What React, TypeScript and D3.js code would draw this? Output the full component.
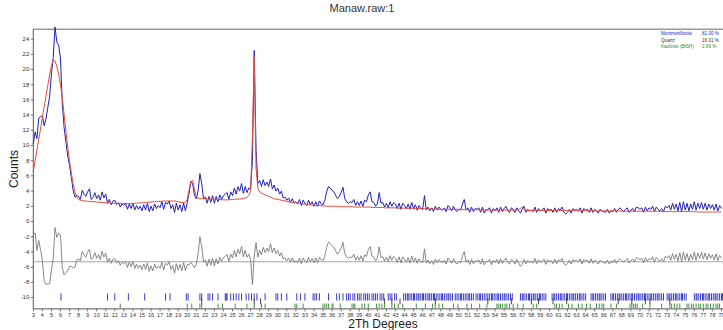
import React from 'react';
import * as d3 from 'd3';

// pattern sampled every 0.2 deg 2Theta starting at 3.0
const START = 3;
const STEP = 0.2;

const observed = [
  10.2, 11.8, 10.9, 13.6, 13.8, // 3
  13.9, 12.6, 13.5, 15.0, 16.4, // 4
  19.4, 21.6, 25.6, 23.6, 23.2, // 5
  21.5, 15.6, 12.4, 10.5, 8.6, // 6
  7.4, 5.8, 4.1, 3.2, 3.4, // 7
  3.3, 2.9, 4.1, 3.6, 3.3, // 8
  3.9, 4.3, 2.9, 3.2, 3.8, // 9
  3.0, 3.5, 2.8, 3.9, 3.1, // 10
  3.6, 2.4, 2.9, 2.2, 2.7, // 11
  2.8, 2.2, 2.5, 1.9, 2.3, // 12
  2.1, 2.4, 1.6, 2.3, 1.7, // 13
  2.4, 1.5, 2.1, 1.6, 2.0, // 14
  1.4, 2.2, 1.5, 2.4, 1.3, // 15
  2.0, 1.4, 2.3, 1.7, 2.1, // 16
  1.8, 2.6, 1.6, 2.5, 2.3, // 17
  2.7, 1.7, 2.2, 1.2, 2.4, // 18
  1.5, 2.2, 1.3, 2.4, 1.4, // 19
  2.5, 3.7, 5.2, 5.0, 3.4, // 20
  3.0, 4.0, 6.3, 5.0, 3.0, // 21
  3.2, 2.4, 3.3, 2.5, 3.4, // 22
  2.4, 3.3, 2.6, 3.5, 2.9, // 23
  3.4, 3.6, 3.8, 2.9, 3.9, // 24
  3.4, 4.4, 3.6, 4.6, 4.0, // 25
  5.0, 3.7, 4.6, 3.8, 4.4, // 26
  4.3, 8.0, 22.5, 9.5, 5.0, // 27
  5.4, 4.6, 5.5, 4.7, 5.2, // 28
  4.6, 5.6, 4.3, 4.8, 4.0, // 29
  4.4, 3.6, 4.0, 3.1, 3.2, // 30
  2.8, 3.1, 2.5, 3.0, 2.4, // 31
  2.6, 2.3, 2.9, 2.1, 2.8, // 32
  2.4, 2.1, 2.8, 2.2, 2.6, // 33
  2.0, 2.6, 2.0, 2.7, 2.3, // 34
  2.2, 2.8, 3.9, 4.6, 4.4, // 35
  4.1, 3.9, 3.4, 3.0, 3.3, // 36
  3.8, 4.5, 3.0, 2.6, 2.4, // 37
  2.6, 2.5, 2.9, 2.1, 2.6, // 38
  2.1, 2.7, 2.0, 2.8, 2.6, // 39
  3.5, 3.9, 2.6, 2.5, 2.0, // 40
  2.3, 3.8, 2.4, 2.5, 1.9, // 41
  2.4, 1.8, 2.6, 2.0, 2.5, // 42
  2.3, 1.7, 2.4, 1.6, 2.4, // 43
  2.1, 1.7, 2.3, 1.6, 2.5, // 44
  1.7, 2.2, 1.5, 2.1, 1.7, // 45
  1.6, 3.4, 1.5, 1.9, 1.4, // 46
  1.8, 1.3, 2.0, 1.5, 1.9, // 47
  1.6, 1.5, 1.8, 1.3, 2.1, // 48
  1.8, 1.4, 2.0, 1.5, 1.3, // 49
  1.6, 1.5, 2.3, 2.9, 1.5, // 50
  1.8, 1.2, 1.9, 1.3, 1.7, // 51
  1.6, 1.8, 1.2, 1.9, 1.1, // 52
  1.5, 1.6, 1.8, 1.1, 1.7, // 53
  1.4, 1.8, 1.2, 1.9, 1.3, // 54
  1.7, 2.0, 1.4, 1.2, 1.8, // 55
  1.6, 1.2, 1.8, 1.4, 1.1, // 56
  1.6, 2.0, 1.2, 1.6, 1.4, // 57
  1.5, 1.3, 1.9, 1.2, 1.7, // 58
  1.4, 1.5, 1.8, 1.1, 1.7, // 59
  1.5, 1.6, 1.2, 1.8, 1.2, // 60
  1.7, 1.5, 1.9, 1.2, 1.0, // 61
  1.2, 1.6, 1.1, 1.7, 1.5, // 62
  1.6, 1.4, 1.8, 1.1, 1.7, // 63
  1.5, 1.6, 1.2, 1.8, 1.2, // 64
  1.6, 1.4, 1.1, 1.6, 1.4, // 65
  1.3, 1.2, 1.6, 1.1, 1.4, // 66
  1.3, 1.7, 1.2, 1.6, 1.8, // 67
  1.5, 1.3, 1.6, 1.8, 1.2, // 68
  1.5, 1.7, 1.3, 1.9, 1.8, // 69
  1.6, 1.8, 1.2, 1.9, 1.4, // 70
  1.8, 1.6, 2.0, 1.3, 1.9, // 71
  1.6, 1.4, 1.7, 1.3, 2.0, // 72
  1.8, 2.1, 1.5, 2.4, 1.6, // 73
  2.3, 1.4, 2.5, 1.3, 2.6, // 74
  1.5, 2.4, 1.4, 2.3, 1.6, // 75
  2.6, 1.5, 2.4, 1.7, 2.5, // 76
  1.6, 2.4, 1.5, 2.3, 1.7, // 77
  2.2, 1.5, 2.3, 1.4, 2.1, // 78
  1.7,
];

const calculated = [
  6.6, 8.0, 9.4, 10.8, 12.2, // 3
  13.7, 15.1, 16.5, 17.9, 19.3, // 4
  20.5, 21.2, 21.1, 20.4, 19.4, // 5
  18.0, 16.3, 14.1, 11.9, 9.8, // 6
  8.0, 6.4, 4.9, 3.9, 3.2, // 7
  2.9, 2.8, 2.75, 2.7, 2.7, // 8
  2.65, 2.65, 2.6, 2.6, 2.6, // 9
  2.55, 2.55, 2.5, 2.5, 2.5, // 10
  2.45, 2.45, 2.45, 2.4, 2.4, // 11
  2.4, 2.4, 2.35, 2.35, 2.35, // 12
  2.35, 2.35, 2.35, 2.35, 2.35, // 13
  2.35, 2.4, 2.4, 2.45, 2.45, // 14
  2.45, 2.5, 2.5, 2.55, 2.55, // 15
  2.55, 2.6, 2.6, 2.6, 2.65, // 16
  2.65, 2.65, 2.7, 2.7, 2.7, // 17
  2.7, 2.7, 2.7, 2.7, 2.65, // 18
  2.6, 2.55, 2.5, 2.5, 2.55, // 19
  2.9, 4.1, 5.3, 5.4, 4.2, // 20
  3.3, 3.0, 3.0, 3.0, 3.0, // 21
  3.0, 3.0, 2.95, 2.95, 2.95, // 22
  2.95, 2.9, 2.9, 2.9, 2.85, // 23
  2.85, 2.85, 2.85, 2.85, 2.9, // 24
  2.9, 2.9, 2.95, 2.95, 2.95, // 25
  3.0, 3.05, 3.1, 3.2, 3.4, // 26
  4.0, 11.0, 21.7, 7.0, 4.4, // 27
  3.9, 3.7, 3.6, 3.5, 3.4, // 28
  3.3, 3.2, 3.1, 3.0, 2.95, // 29
  2.9, 2.85, 2.8, 2.75, 2.7, // 30
  2.65, 2.6, 2.55, 2.5, 2.5, // 31
  2.45, 2.4, 2.4, 2.35, 2.3, // 32
  2.3, 2.25, 2.2, 2.2, 2.15, // 33
  2.15, 2.1, 2.1, 2.1, 2.05, // 34
  2.05, 2.05, 2.0, 2.0, 2.0, // 35
  2.0, 2.0, 2.0, 2.0, 1.95, // 36
  1.95, 1.95, 1.95, 1.95, 1.95, // 37
  1.95, 1.95, 1.9, 1.9, 1.9, // 38
  1.9, 1.9, 1.9, 1.9, 1.9, // 39
  1.9, 1.9, 1.85, 1.85, 1.85, // 40
  1.85, 1.85, 1.85, 1.85, 1.8, // 41
  1.8, 1.8, 1.8, 1.8, 1.8, // 42
  1.8, 1.8, 1.75, 1.75, 1.75, // 43
  1.75, 1.75, 1.75, 1.75, 1.75, // 44
  1.7, 1.7, 1.7, 1.7, 1.7, // 45
  1.7, 1.7, 1.65, 1.65, 1.65, // 46
  1.65, 1.65, 1.65, 1.65, 1.6, // 47
  1.6, 1.6, 1.6, 1.6, 1.6, // 48
  1.6, 1.6, 1.6, 1.6, 1.6, // 49
  1.6, 1.6, 1.55, 1.55, 1.55, // 50
  1.55, 1.55, 1.55, 1.55, 1.55, // 51
  1.55, 1.55, 1.5, 1.5, 1.5, // 52
  1.5, 1.5, 1.5, 1.5, 1.5, // 53
  1.5, 1.5, 1.5, 1.5, 1.5, // 54
  1.5, 1.5, 1.5, 1.5, 1.5, // 55
  1.5, 1.5, 1.5, 1.55, 1.7, // 56
  1.9, 1.7, 1.5, 1.45, 1.45, // 57
  1.45, 1.45, 1.45, 1.45, 1.45, // 58
  1.45, 1.45, 1.45, 1.45, 1.45, // 59
  1.45, 1.45, 1.45, 1.45, 1.45, // 60
  1.45, 1.45, 1.45, 1.45, 1.45, // 61
  1.45, 1.4, 1.4, 1.4, 1.4, // 62
  1.4, 1.4, 1.4, 1.4, 1.4, // 63
  1.4, 1.4, 1.4, 1.4, 1.4, // 64
  1.4, 1.4, 1.4, 1.4, 1.4, // 65
  1.4, 1.4, 1.4, 1.4, 1.4, // 66
  1.4, 1.4, 1.4, 1.4, 1.4, // 67
  1.35, 1.35, 1.35, 1.35, 1.35, // 68
  1.35, 1.35, 1.35, 1.35, 1.35, // 69
  1.35, 1.35, 1.35, 1.35, 1.35, // 70
  1.35, 1.35, 1.35, 1.35, 1.35, // 71
  1.35, 1.3, 1.3, 1.3, 1.3, // 72
  1.3, 1.3, 1.3, 1.3, 1.3, // 73
  1.3, 1.3, 1.3, 1.3, 1.3, // 74
  1.3, 1.3, 1.3, 1.3, 1.3, // 75
  1.3, 1.3, 1.25, 1.25, 1.25, // 76
  1.25, 1.25, 1.25, 1.25, 1.25, // 77
  1.25, 1.25, 1.25, 1.25, 1.25, // 78
  1.25,
];

const DIFF_OFFSET = -5.3;

// reflection positions per phase
const montmorilloniteTicks = [
  6.06, 11.2, 12.0, 13.5, 15.3, 17.6, 18.1, 19.9, 20.1, 21.4, 21.6, 22.3, 22.5, 22.8, 23.4,
  24.2, 24.3, 24.4, 24.8, 25.1, 25.4, 25.7, 26.0, 26.5, 26.8, 27.1, 27.4, 27.7, 28.6, 29.8,
  30.0, 30.4, 31.0, 32.1, 32.5, 33.0, 33.9, 34.1, 34.3, 34.6, 35.6, 36.5, 36.8, 37.2, 37.6,
  37.8, 38.0, 38.3, 38.5, 38.8, 39.0, 39.2, 39.5, 39.7, 39.9, 40.1, 40.4, 40.6, 40.8, 41.0,
  41.3, 41.5, 41.7, 42.2, 42.4, 42.6, 42.9, 43.1, 43.9, 44.1, 44.3, 44.4, 44.6, 44.8, 45.0,
  45.1, 45.3, 45.5, 45.6, 45.8, 46.0, 46.1, 46.3, 46.5, 46.7, 46.8, 47.0, 47.2, 47.3, 47.5,
  47.7, 47.9, 48.1, 48.2, 48.4, 48.6, 48.8, 48.9, 49.1, 49.3, 49.6, 49.8, 50.0, 50.2, 50.3,
  50.5, 50.7, 50.9, 51.1, 51.2, 51.4, 51.6, 51.9, 52.1, 52.3, 52.4, 52.6, 52.8, 53.0, 53.2,
  53.4, 53.6, 53.7, 53.9, 54.1, 54.3, 54.4, 54.6, 54.8, 55.0, 55.1, 55.3, 55.5, 55.7, 55.9,
  56.8, 57.0, 57.1, 57.3, 57.5, 57.7, 57.8, 58.0, 58.2, 58.3, 58.5, 58.7, 58.9, 59.0, 59.2,
  59.4, 59.6, 60.3, 60.5, 60.6, 60.8, 61.0, 61.2, 61.3, 61.5, 61.7, 61.9, 62.0, 62.2, 62.4,
  62.6, 62.7, 62.9, 63.1, 63.3, 63.4, 63.6, 63.8, 64.0, 64.6, 64.8, 64.9, 65.1, 65.3, 65.5,
  65.6, 65.8, 66.0, 66.2, 66.8, 67.0, 67.1, 67.3, 67.5, 67.7, 67.8, 68.0, 68.2, 68.4, 68.5,
  68.7, 68.9, 69.1, 69.2, 69.4, 69.6, 69.8, 69.9, 70.1, 70.3, 70.5, 70.6, 70.8, 71.0, 71.2,
  71.3, 71.5, 71.7, 71.9, 72.0, 72.2, 72.4, 72.6, 73.0, 73.2, 73.3, 73.5, 73.7, 73.9, 74.0,
  74.2, 74.4, 74.6, 74.7, 74.9, 75.1, 76.0, 76.2, 76.3, 76.5, 76.7, 76.9, 77.0, 77.2, 77.4,
  77.6, 77.7, 77.9, 78.1, 78.3, 78.4, 78.6, 78.8, 79.0, 79.1,
];
const quartzTicks = [
  21.6, 27.4, 28.1, 41.8, 42.6, 43.5, 47.4, 53.2, 55.8, 58.0, 58.8, 60.4, 61.9, 67.6, 69.1,
  70.6, 71.1, 73.3,
];
const kaoliniteTicks = [
  12.6, 20.0, 20.5, 21.4, 21.6, 23.4, 23.9, 25.3, 26.6, 27.4, 28.2, 28.6, 31.9, 32.1, 32.8,
  35.0, 35.2, 35.4, 35.6, 36.0, 36.1, 36.9, 38.2, 38.4, 38.5, 39.3, 39.6, 40.0, 40.9, 41.2,
  41.5, 41.8, 42.6, 42.9, 43.3, 43.8, 45.3, 46.3, 47.1, 47.4, 47.8, 48.2, 49.4, 49.9, 50.9,
  51.4, 52.3, 53.1, 54.2, 54.4, 54.6, 54.8, 55.1, 55.3, 55.6, 56.0, 56.5, 57.1, 58.2, 58.6,
  60.6, 60.8, 61.1, 61.4, 62.1, 62.5, 63.2, 63.6, 64.1, 64.5, 65.2, 65.5, 65.8, 66.0, 66.8,
  67.4, 68.9, 69.1, 69.3, 69.5, 69.7, 70.3, 71.1, 72.4, 73.3, 73.5, 73.8, 74.1, 74.4, 75.2,
  75.4, 75.7, 75.9, 76.2, 76.5, 76.7, 77.0, 77.3, 77.5, 77.8, 78.1, 78.4, 78.6, 78.8,
];

const phaseNames = ['Montmorillonite', 'Quartz', 'Kaolinite (BISH)'];
const phasePercents = ['81.00 %', '16.01 %', '2.99 %'];
const phaseColors = ['#2424c8', '#333333', '#2c8a2c'];

const yTicks = d3.range(-10, 25, 2);
const xTicks = d3.range(3, 80, 1);

const W = 723;
const H = 330;

export default function App() {
  const x = d3.scaleLinear().domain([3, 80]).range([33.3, 730.5]);
  const y = d3.scaleLinear().domain([-11.5, 25.3]).range([308.9, 29.2]);

  const twoTheta = observed.map((_, i) => START + i * STEP);
  const obsPts: [number, number][] = twoTheta.map((t, i) => [t, observed[i]]);
  const calcPts: [number, number][] = twoTheta.map((t, i) => [t, calculated[i]]);
  const diffPts: [number, number][] = twoTheta.map((t, i) => [t, observed[i] - calculated[i] + DIFF_OFFSET]);

  const line = d3.line<[number, number]>().x(d => x(d[0])).y(d => y(d[1]));

  const tickRow = (vals: number[], top: number, bottom: number, color: string, key: string) => (
    <g key={key} stroke={color} strokeWidth={0.9}>
      {vals.map((v, i) => (
        <line key={i} x1={x(v)} x2={x(v)} y1={y(top)} y2={y(bottom)} />
      ))}
    </g>
  );

  const x0 = x(3);
  return (
    <svg width={W} height={H} style={{ position: 'absolute', left: 0, top: 0, background: '#fff' }}
      fontFamily="Arial, 'Liberation Sans', sans-serif">
      <text x={362} y={12} textAnchor="middle" fontSize={11} fill="#333">Manaw.raw:1</text>

      {/* frame */}
      <line x1={x0} x2={W} y1={y(25.3)} y2={y(25.3)} stroke="#999" strokeWidth={1.5} />
      <line x1={x0} x2={x0} y1={y(25.3)} y2={y(-11.5)} stroke="#555" strokeWidth={1} />
      <line x1={x0} x2={W} y1={y(-11.5)} y2={y(-11.5)} stroke="#555" strokeWidth={1} />

      {/* y axis */}
      {yTicks.map(t => (
        <g key={t}>
          <line x1={x0 - 2.5} x2={x0} y1={y(t)} y2={y(t)} stroke="#555" strokeWidth={0.8} />
          <text x={x0 - 4} y={y(t) + 2} textAnchor="end" fontSize={6} fill="#333">{t}</text>
        </g>
      ))}
      <text transform={`translate(18,169) rotate(-90)`} textAnchor="middle" fontSize={12} fill="#222">Counts</text>

      {/* x axis */}
      {xTicks.map(t => (
        <g key={t}>
          <line x1={x(t)} x2={x(t)} y1={y(-11.5)} y2={y(-11.5) + 2.5} stroke="#555" strokeWidth={0.8} />
          <text x={x(t)} y={y(-11.5) + 8} textAnchor="middle" fontSize={5.5} fill="#333">{t}</text>
        </g>
      ))}
      <text x={383} y={328} textAnchor="middle" fontSize={12} fill="#222">2Th Degrees</text>

      {/* difference */}
      <line x1={x0} x2={W} y1={y(DIFF_OFFSET)} y2={y(DIFF_OFFSET)} stroke="#9a9a9a" strokeWidth={0.9} />
      <path d={line(diffPts) || ''} fill="none" stroke="#7a7a7a" strokeWidth={0.9} />

      {/* phase reflections */}
      {tickRow(montmorilloniteTicks, -9.45, -10.4, '#2424c8', 'm')}
      {tickRow(quartzTicks, -10.1, -10.9, '#333', 'q')}
      {tickRow(kaoliniteTicks, -10.8, -11.4, '#2c8a2c', 'k')}

      {/* observed and calculated */}
      <path d={line(obsPts) || ''} fill="none" stroke="#2020b8" strokeWidth={1} />
      <path d={line(calcPts) || ''} fill="none" stroke="#e64a3c" strokeWidth={1} />

      {/* legend */}
      {phaseNames.map((n, i) => (
        <g key={n} fontSize={4.6} fill={phaseColors[i]}>
          <text x={661} y={35 + i * 6.7}>{n}</text>
          <text x={702} y={35 + i * 6.7}>{phasePercents[i]}</text>
        </g>
      ))}
    </svg>
  );
}
